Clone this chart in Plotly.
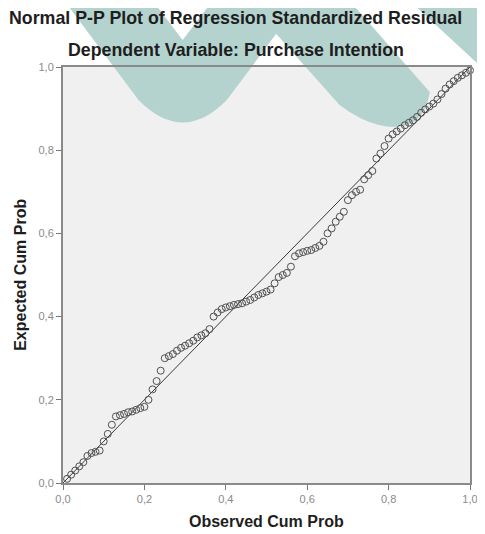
import plotly.graph_objects as go

# ---- data ----
observed_cum_prob = [
    0.01, 0.02, 0.03, 0.04, 0.05, 0.06, 0.07, 0.08, 0.09, 0.10,
    0.11, 0.12, 0.13, 0.14, 0.15, 0.16, 0.17, 0.18, 0.19, 0.20,
    0.21, 0.22, 0.23, 0.24, 0.25, 0.26, 0.27, 0.28, 0.29, 0.30,
    0.31, 0.32, 0.33, 0.34, 0.35, 0.36, 0.37, 0.38, 0.39, 0.40,
    0.41, 0.42, 0.43, 0.44, 0.45, 0.46, 0.47, 0.48, 0.49, 0.50,
    0.51, 0.52, 0.53, 0.54, 0.55, 0.56, 0.57, 0.58, 0.59, 0.60,
    0.61, 0.62, 0.63, 0.64, 0.65, 0.66, 0.67, 0.68, 0.69, 0.70,
    0.71, 0.72, 0.73, 0.74, 0.75, 0.76, 0.77, 0.78, 0.79, 0.80,
    0.81, 0.82, 0.83, 0.84, 0.85, 0.86, 0.87, 0.88, 0.89, 0.90,
    0.91, 0.92, 0.93, 0.94, 0.95, 0.96, 0.97, 0.98, 0.99, 1.00,
]
expected_cum_prob = [
    0.010, 0.020, 0.030, 0.040, 0.050, 0.065, 0.072, 0.075, 0.078, 0.100,
    0.118, 0.140, 0.160, 0.163, 0.166, 0.170, 0.172, 0.176, 0.180, 0.183,
    0.200, 0.225, 0.245, 0.270, 0.300, 0.305, 0.310, 0.318, 0.325, 0.330,
    0.336, 0.342, 0.350, 0.355, 0.360, 0.370, 0.400, 0.410, 0.418, 0.422,
    0.425, 0.428, 0.430, 0.432, 0.436, 0.440, 0.446, 0.452, 0.456, 0.460,
    0.465, 0.480, 0.495, 0.500, 0.505, 0.520, 0.545, 0.552, 0.555, 0.558,
    0.560, 0.565, 0.570, 0.580, 0.600, 0.612, 0.628, 0.640, 0.652, 0.680,
    0.692, 0.700, 0.705, 0.730, 0.740, 0.750, 0.780, 0.792, 0.810, 0.828,
    0.838, 0.845, 0.852, 0.860, 0.866, 0.872, 0.880, 0.890, 0.898, 0.905,
    0.912, 0.922, 0.935, 0.948, 0.958, 0.966, 0.974, 0.980, 0.986, 0.992,
]
reference_line = [0.0, 1.0]
tick_values = [0.0, 0.2, 0.4, 0.6, 0.8, 1.0]

title_text = "Normal P-P Plot of Regression Standardized Residual"
subtitle_text = "Dependent Variable: Purchase Intention"
x_title = "Observed Cum Prob"
y_title = "Expected Cum Prob"

# ---- layout geometry ----
# the page body has an 8px margin, so the figure is sized to fit the window
OFF = 8
W, H = 485 - OFF, 534 - OFF
L, R, T, B = 55, 7, 59, 51
PW, PH = W - L - R, H - T - B


def px(xw):
    """window pixel x -> paper x"""
    return (xw - OFF - L) / PW


def py(yw):
    """window pixel y -> paper y"""
    return (H - B - (yw - OFF)) / PH


def path(cmds):
    out = []
    for c in cmds:
        if isinstance(c, str):
            out.append(c)
        else:
            out.append(f"{px(c[0]):.4f},{py(c[1]):.4f}")
    return " ".join(out)


wm_color = "#b4d3cf"
wm_shapes = [
    path(["M", (60, -5), "L", (150, -5), "L", (185, 40), "L", (220, -5), "L", (310, -5),
          "L", (230, 100), "Q", (185, 145), (140, 100), "Z"]),
    path(["M", (245, -5), "L", (350, -5), "L", (437, 92), "Q", (430, 135), (385, 125),
          "Q", (365, 120), (345, 105), "Z"]),
    path(["M", (410, -5), "L", (495, -5), "L", (495, 72), "Z"]),
]

fig = go.Figure()
fig.add_trace(go.Scatter(
    x=reference_line, y=reference_line, mode="lines",
    line=dict(color="#3a3a3a", width=1), hoverinfo="skip", cliponaxis=False,
))
fig.add_trace(go.Scatter(
    x=observed_cum_prob, y=expected_cum_prob, mode="markers",
    marker=dict(symbol="circle-open", size=7, color="#505050", line=dict(width=1)),
    cliponaxis=False,
))

axis_common = dict(
    range=[0, 1], tickvals=tick_values, tickformat=".1f",
    ticks="outside", ticklen=5, tickwidth=1, tickcolor="#777",
    showgrid=False, zeroline=False, showline=True, linecolor="#8a8a8a",
    linewidth=2, mirror=True,
    tickfont=dict(family="Liberation Sans, Arial", size=11, color="#8a8a8a"),
)
fig.update_xaxes(**axis_common)
fig.update_yaxes(**axis_common)

fig.update_layout(
    width=W, height=H, margin=dict(l=L, r=R, t=T, b=B),
    plot_bgcolor="#f0f0f0", paper_bgcolor="white", showlegend=False,
    separators=",.",
    shapes=[dict(type="path", path=p, xref="paper", yref="paper",
                 fillcolor=wm_color, line=dict(width=0), layer="below")
            for p in wm_shapes],
    annotations=[
        dict(text=f"<b>{title_text}</b>", x=px(239), y=py(18), xref="paper", yref="paper",
             showarrow=False, xanchor="center", yanchor="middle",
             font=dict(family="Liberation Sans, Arial", size=17.8, color="#1e1e1e")),
        dict(text=f"<b>{subtitle_text}</b>", x=px(239), y=py(50), xref="paper", yref="paper",
             showarrow=False, xanchor="center", yanchor="middle",
             font=dict(family="Liberation Sans, Arial", size=17.8, color="#1e1e1e")),
        dict(text=f"<b>{x_title}</b>", x=px(271), y=py(521), xref="paper", yref="paper",
             showarrow=False, xanchor="center", yanchor="middle",
             font=dict(family="Liberation Sans, Arial", size=16, color="#1e1e1e")),
        dict(text=f"<b>{y_title}</b>", x=px(19), y=py(275), xref="paper", yref="paper",
             showarrow=False, xanchor="center", yanchor="middle", textangle=-90,
             font=dict(family="Liberation Sans, Arial", size=16, color="#1e1e1e")),
    ],
)

fig.write_html("out.html")
